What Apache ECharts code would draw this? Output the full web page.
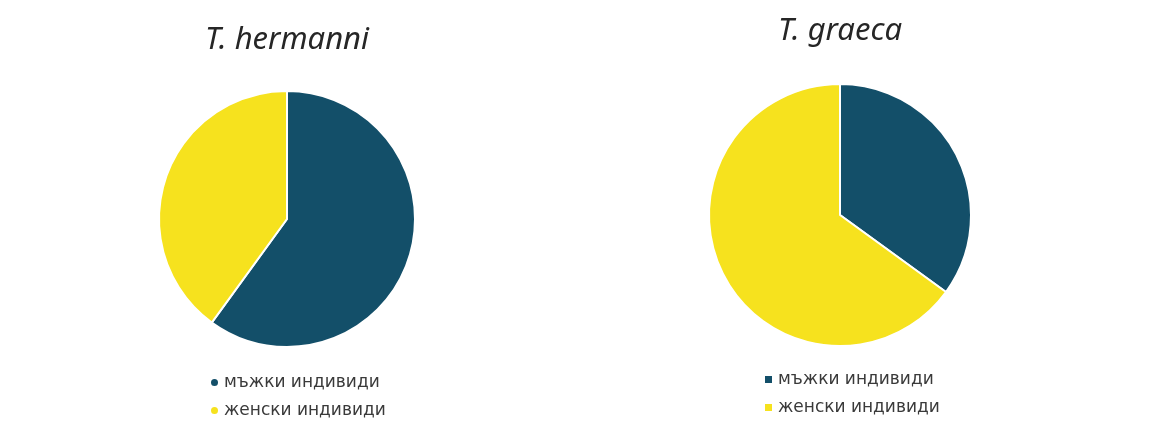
<!DOCTYPE html>
<html><head><meta charset="utf-8">
<script src="https://cdn.jsdelivr.net/npm/echarts@6/dist/echarts.min.js"></script>
<style>html,body{margin:0;padding:0;background:#fff}#c{width:1172px;height:432px}</style>
</head><body><div id="c"></div>
<script>
const categories = ['мъжки индивиди', 'женски индивиди'];
const titles = ['T. hermanni', 'T. graeca'];
const hermanniValues = [60, 40];
const graecaValues = [35, 65];
const colors = ['#134f69', '#f6e21e'];

const chart = echarts.init(document.getElementById('c'), null, {renderer: 'canvas'});
function mk(vals){ return categories.map((c,i)=>({name:c, value:vals[i]})); }
const titleStyle = {fontFamily:'Noto Sans', fontStyle:'italic', fontSize:31, color:'#262626', fontWeight:'normal'};
const legendText = {fontFamily:'DejaVu Sans', fontSize:17, color:'#3a3a3a'};
chart.setOption({
  animation:false,
  color: colors,
  title:[
    {text:titles[0], left:282, top:20, textAlign:'center', textStyle:titleStyle},
    {text:titles[1], left:835, top:11, textAlign:'center', textStyle:titleStyle}
  ],
  legend:[
    {data:categories, orient:'vertical', left:204, top:369, itemWidth:9, itemHeight:9, itemGap:11, icon:'circle', textStyle:legendText},
    {data:categories, orient:'vertical', left:758, top:366, itemWidth:9, itemHeight:9, itemGap:11, icon:'rect', textStyle:legendText}
  ],
  series:[
    {type:'pie', name:titles[0], center:[287,219], radius:128, startAngle:90, clockwise:true,
     label:{show:false}, labelLine:{show:false}, itemStyle:{borderColor:'#fff', borderWidth:2},
     data:mk(hermanniValues)},
    {type:'pie', name:titles[1], center:[840,215], radius:131, startAngle:90, clockwise:true,
     label:{show:false}, labelLine:{show:false}, itemStyle:{borderColor:'#fff', borderWidth:2},
     data:mk(graecaValues)}
  ]
});
</script></body></html>
